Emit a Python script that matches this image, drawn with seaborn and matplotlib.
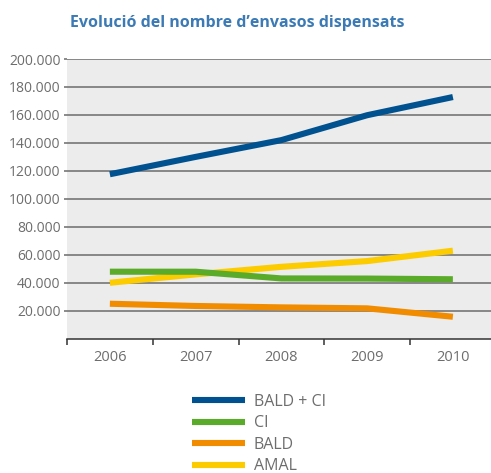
import matplotlib
matplotlib.use("Agg")
import matplotlib.pyplot as plt
import seaborn as sns
import pandas as pd
from matplotlib.ticker import FixedLocator, FuncFormatter
from matplotlib.lines import Line2D

years = ["2006", "2007", "2008", "2009", "2010"]
series_names = ["BALD + CI", "CI", "BALD", "AMAL"]
bald_ci = [117600, 130000, 142000, 159800, 172800]
ci = [47900, 47900, 43100, 43000, 42500]
bald = [25000, 23400, 22400, 21700, 15700]
amal = [40000, 46000, 51400, 55500, 62900]
colors = ["#00518f", "#5aab2a", "#f18c00", "#fccb00"]
title = "Evolució del nombre d\u2019envasos dispensats"
ytick_values = [20000, 40000, 60000, 80000, 100000, 120000, 140000, 160000, 180000, 200000]

values = [bald_ci, ci, bald, amal]
rows = []
for name, vals in zip(series_names, values):
    for i, v in enumerate(vals):
        rows.append({"x": i, "year": years[i], "serie": name, "value": v})
df = pd.DataFrame(rows)

sns.set_theme(style="white")
plt.rcParams["font.family"] = ["Open Sans", "DejaVu Sans"]

fig = plt.figure(figsize=(4.91, 4.73), dpi=100)
ax = fig.add_axes([67 / 491, (473 - 338.7) / 473, 1 - 67 / 491, (338.7 - 59) / 473])
ax.set_facecolor("#ebeceb")

palette = dict(zip(series_names, colors))
# draw order: AMAL, BALD, BALD+CI, CI (green over yellow)
draw_order = ["AMAL", "BALD", "BALD + CI", "CI"]
sns.lineplot(data=df, x="x", y="value", hue="serie", hue_order=draw_order,
             palette=palette, linewidth=4.4, ax=ax, legend=False,
             estimator=None, sort=False)
for ln in ax.get_lines():
    ln.set_solid_capstyle("butt")
    ln.set_solid_joinstyle("round")
    ln.set_zorder(3)

ax.set_xlim(-0.5, -0.5 + (491 - 67) / 85.75)
ax.set_ylim(0, 200000)

grid_color = "#6b6b6b"
ax.yaxis.set_major_locator(FixedLocator(ytick_values))
ax.yaxis.set_major_formatter(FuncFormatter(lambda v, p: f"{int(v):,}".replace(",", ".")))
ax.grid(axis="y", color=grid_color, linewidth=1.1, zorder=1)
ax.set_axisbelow(True)
ax.tick_params(axis="y", length=2.5, width=1.1, color=grid_color, pad=2.2,
               labelsize=10, labelcolor="#6d6d6d", left=True)

ax.xaxis.set_major_locator(FixedLocator([-0.5, 0.5, 1.5, 2.5, 3.5]))
ax.xaxis.set_major_formatter(FuncFormatter(lambda v, p: ""))
ax.xaxis.set_minor_locator(FixedLocator(list(range(len(years)))))
ax.xaxis.set_minor_formatter(FuncFormatter(lambda v, p: years[int(round(v))]))
ax.tick_params(axis="x", which="major", length=4.5, width=1.1, color="#333333", bottom=True)
ax.tick_params(axis="x", which="minor", length=0, pad=8, labelsize=10.5, labelcolor="#6d6d6d")

for s in ["top", "right", "left"]:
    ax.spines[s].set_visible(False)
ax.spines["bottom"].set_color("#333333")
ax.spines["bottom"].set_linewidth(1.1)
ax.set_xlabel("")
ax.set_ylabel("")

fig.text(70 / 491, 1 - 27 / 473, title, fontsize=11.5, fontweight="bold",
         color="#3b7ab5", ha="left", va="baseline")

handles = [Line2D([], [], color=c, linewidth=4.4, solid_capstyle="butt") for c in colors]
fig.legend(handles, series_names, loc="upper left",
           bbox_to_anchor=(192 / 491, 1 - 394 / 473), frameon=False,
           fontsize=11.5, labelcolor="#6d6d6d", handlelength=3.3,
           handletextpad=0.56, labelspacing=0.34, borderpad=0, borderaxespad=0)

fig.savefig("out.png", dpi=100)
